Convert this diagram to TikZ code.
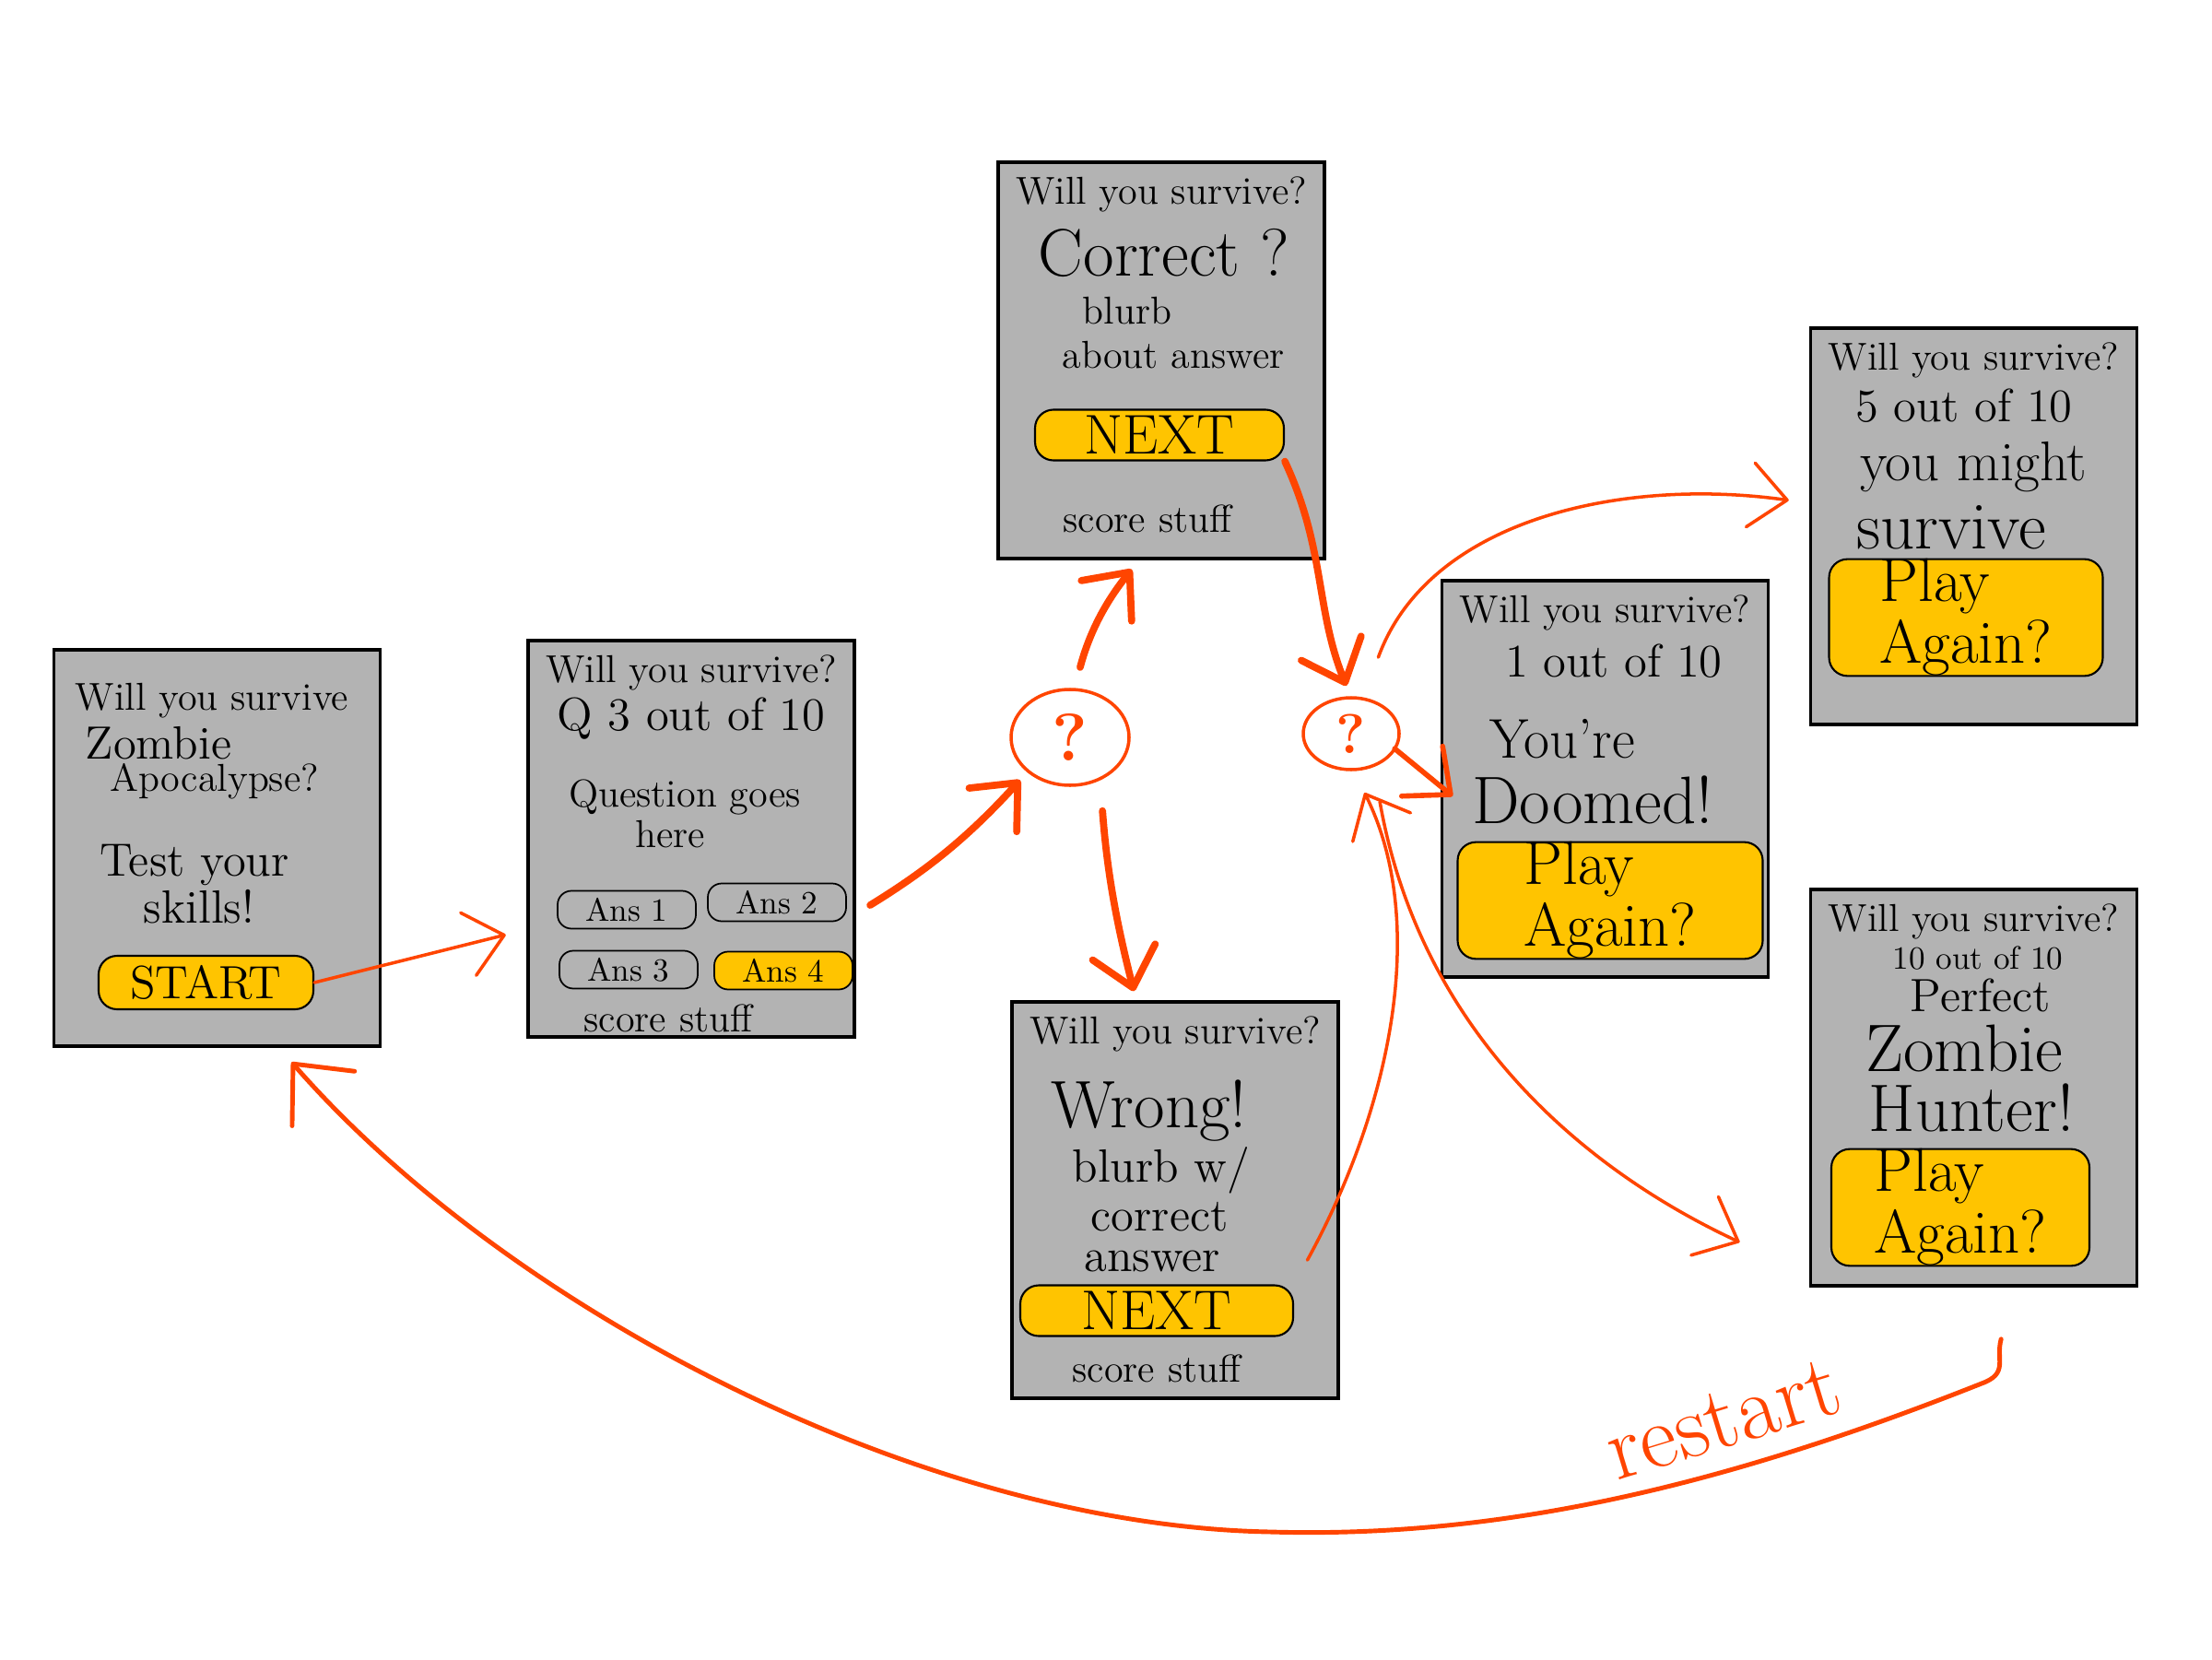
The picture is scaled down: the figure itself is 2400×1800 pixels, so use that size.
\documentclass[tikz,border=0pt]{standalone}
\usetikzlibrary{arrows.meta,shapes.geometric}
\definecolor{screengray}{HTML}{B3B3B3}
\definecolor{marker}{HTML}{FFC400}
\definecolor{pen}{HTML}{FF4500}
\begin{document}
\begin{tikzpicture}[x=0.1mm,y=-0.1mm,
		screen/.style={draw,line width=1.1pt,fill=screengray,inner sep=0pt,outer sep=0pt,minimum width=35.4mm,minimum height=43mm},
		btn/.style={draw,line width=0.6pt,rounded corners=2mm,fill=marker,inner sep=0pt,font=\LARGE},
		ansbox/.style={draw,line width=0.5pt,rounded corners=1.5mm,inner sep=0pt,minimum width=15mm,minimum height=4.1mm},
		hand/.style={font=\large,inner sep=0pt},
		handbig/.style={font=\LARGE,inner sep=0pt},
		handhuge/.style={font=\huge,inner sep=0pt},
		decide/.style={draw=pen,ellipse,line width=1pt,text=pen,inner sep=0pt,outer sep=0pt},
		flow/.style={pen,line width=2.2pt,line cap=round,-{Straight Barb[length=4mm,width=7mm,round]}},
		thinflow/.style={flow,line width=1pt}]
		\fill[white] (0,0) rectangle (2400,1800);
		\node[screen] (start) at (235.5,920) {};
		\node[screen] (quiz) at (750,910) {};
		\node[screen] (correct) at (1260,391) {};
		\node[screen] (wrong) at (1275,1302) {};
		\node[screen] (doomed) at (1741.5,845) {};
		\node[screen] (maybe) at (2141.5,571) {};
		\node[screen] (perfect) at (2141.5,1180) {};
		\foreach \s in {quiz,correct,wrong,doomed,maybe,perfect}{
				\node[hand] (\s-title) at ([yshift=-3.5mm]\s.north) {Will you survive?};
			}
		\node[hand] (s-will) at (230,760) {Will you survive};
		\node[handbig,font=\Large] (s-zombie) at (172,806) {Zombie};
		\node[hand] (s-apoc) at (233,848) {Apocalypse?};
		\node[hand,font=\Large] (s-test) at (211,938) {Test your};
		\node[hand,font=\Large] (s-skills) at (216,984) {skills!};
		\node[btn,font=\Large,minimum width=23.3mm,minimum height=5.8mm] (startbtn) at (223.5,1066) {START};
		\node[hand,font=\Large] (q-num) at (750,780) {Q 3 out of 10};
		\node[hand] (q-text) at (743,865) {Question goes};
		\node[hand] (q-here) at (727,905) {here};
		\node[ansbox] (ans1) at (680,987) {Ans 1};
		\node[ansbox] (ans2) at (843,979) {Ans 2};
		\node[ansbox] (ans3) at (682,1052) {Ans 3};
		\node[ansbox,fill=marker] (ans4) at (850,1053) {Ans 4};
		\node[hand] (q-score) at (725,1105) {score stuff};
		\node[handhuge] (c-head) at (1263,275) {Correct ?};
		\node[hand] (c-blurb) at (1223,337) {blurb};
		\node[hand] (c-about) at (1273,385) {about answer};
		\node[btn,minimum width=27mm,minimum height=5.5mm] (nextA) at (1258,472) {NEXT};
		\node[hand] (c-score) at (1245,563) {score stuff};
		\node[handhuge] (w-head) at (1247,1205) {Wrong!};
		\node[handbig,font=\Large] (w-blurb) at (1260,1270) {blurb w/};
		\node[handbig,font=\Large] (w-correct) at (1258,1320) {correct};
		\node[handbig,font=\Large] (w-answer) at (1250,1368) {answer};
		\node[btn,minimum width=29.6mm,minimum height=5.5mm] (nextB) at (1255,1422) {NEXT};
		\node[hand] (w-score) at (1255,1485) {score stuff};
		\node[hand,font=\Large] (d-score) at (1751,717) {1 out of 10};
		\node[handbig] (d-youre) at (1695,802) {You're};
		\node[handhuge] (d-doomed) at (1728,868) {Doomed!};
		\node[hand,font=\Large] (m-score) at (2131,440) {5 out of 10};
		\node[handbig] (m-might) at (2141,507) {you might};
		\node[handhuge] (m-survive) at (2117,572) {survive};
		\node[hand,font=\normalsize] (p-score) at (2146,1039) {10 out of 10};
		\node[handbig,font=\Large] (p-perfect) at (2149,1080) {Perfect};
		\node[handhuge] (p-zombie) at (2131,1137) {Zombie};
		\node[handhuge] (p-hunter) at (2139,1202) {Hunter!};
		\foreach \n/\x/\y/\w/\h in {againA/1747/977/331/119,againB/2133/670/297/106,againC/2127/1310/280/115}{
				\node[btn,align=left,font={\fontsize{19}{19}\selectfont},minimum width=\w*0.1mm,minimum height=\h*0.1mm] (\n) at (\x,\y) {Play\\Again?};
			}
		\node[decide,font=\huge\bfseries,minimum width=12.8mm,minimum height=10.4mm] (q1) at (1161,800) {?};
		\node[decide,font=\LARGE\bfseries,minimum width=10.4mm,minimum height=7.8mm] (q2) at (1466,796) {?};
		\draw[thinflow,shorten >=2.5mm] (startbtn.east) -- (quiz.209);
		\draw[flow,shorten <=2mm,shorten >=1.3mm] (quiz.-25) to[bend right=8] (q1.219);
		\draw[flow,shorten <=2.5mm,shorten >=1.5mm] (q1.85) to[bend left=12] (correct.264);
		\draw[flow,shorten <=3.5mm,shorten >=1.2mm] (q1.-54) to[bend right=5] (wrong.101);
		\draw[flow,shorten >=1.4mm] (nextA.south east) to[out=-65,in=112] (q2.north);
		\draw[thinflow,shorten <=3mm,shorten >=2.8mm] (nextB.north east) .. controls (1510,1200) and (1550,1000) .. (q2.-87);
		\draw[flow,line width=1.6pt,shorten >=-1.5mm] (q2.-19) -- (doomed.183);
		\draw[thinflow,shorten <=4.8mm,shorten >=2.4mm] (q2.71) to[out=70,in=172] (maybe.172);
		\draw[thinflow,shorten <=4mm,shorten >=8.5mm] (q2.-55) to[out=-80,in=155] (perfect.229);
		\draw[flow,line width=1.4pt,shorten <=6mm,shorten >=2.3mm,-{Straight Barb[length=5mm,width=9mm,round]}] (perfect.-78) .. controls (2165,1475) and (2180,1490) .. (2150,1501) .. controls (1900,1600) and (1650,1670) .. (1378,1662) .. controls (1000,1655) and (550,1420) .. (start.-73);
		\node[text=pen,rotate=17,font={\fontsize{28}{28}\selectfont}] (restartlbl) at (1870,1540) {restart};
	\end{tikzpicture}
\end{document}
